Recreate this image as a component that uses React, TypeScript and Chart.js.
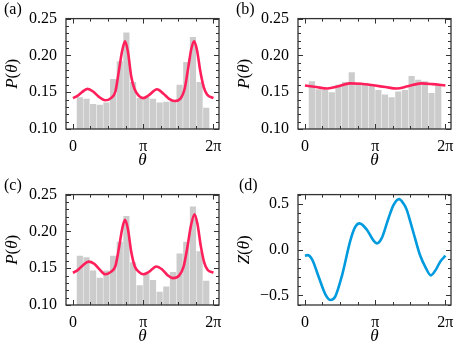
import React, { useEffect, useRef } from "react";
import { Chart, registerables } from "chart.js";
Chart.register(...registerables);

// ---------- data ----------
const binCenters = [0.309, 0.607, 0.904, 1.202, 1.499, 1.797, 2.094, 2.392, 2.689, 2.987, 3.284, 3.582, 3.879, 4.177, 4.474, 4.772, 5.069, 5.367, 5.664, 5.962];

const barsA = [0.143, 0.141, 0.134, 0.133, 0.136, 0.168, 0.192, 0.231, 0.164, 0.142, 0.143, 0.141, 0.136, 0.137, 0.139, 0.160, 0.191, 0.225, 0.164, 0.129];
const barsB = [0.165, 0.154, 0.153, 0.150, 0.160, 0.164, 0.177, 0.163, 0.162, 0.159, 0.153, 0.147, 0.143, 0.151, 0.153, 0.172, 0.167, 0.165, 0.149, 0.159];
const barsC = [0.167, 0.165, 0.147, 0.137, 0.147, 0.167, 0.186, 0.221, 0.158, 0.127, 0.142, 0.134, 0.118, 0.125, 0.145, 0.170, 0.186, 0.234, 0.173, 0.133];

const thetaA = [0, 0.2, 0.4, 0.65, 0.9, 1.15, 1.44, 1.7, 1.9, 2.05, 2.2, 2.33, 2.46, 2.61, 2.76, 2.95, 3.14, 3.4, 3.76, 4.05, 4.3, 4.55, 4.8, 5.0, 5.15, 5.29, 5.42, 5.55, 5.7, 5.85, 6.0, 6.283];
const curveA = [0.142, 0.145, 0.150, 0.1545, 0.151, 0.144, 0.139, 0.142, 0.151, 0.178, 0.206, 0.219, 0.205, 0.171, 0.154, 0.145, 0.142, 0.146, 0.154, 0.148, 0.141, 0.138, 0.141, 0.155, 0.182, 0.208, 0.219, 0.207, 0.178, 0.157, 0.147, 0.142];

const thetaB = [0, 0.5, 1.0, 1.5, 2.0, 2.5, 3.14, 3.6, 4.1, 4.6, 5.2, 5.7, 6.283];
const curveB = [0.159, 0.157, 0.155, 0.158, 0.162, 0.1615, 0.159, 0.157, 0.155, 0.158, 0.162, 0.161, 0.159];

const thetaC = [0, 0.2, 0.45, 0.7, 0.95, 1.2, 1.44, 1.7, 1.9, 2.05, 2.2, 2.33, 2.46, 2.61, 2.76, 2.95, 3.14, 3.4, 3.73, 4.0, 4.25, 4.47, 4.75, 4.95, 5.1, 5.28, 5.44, 5.57, 5.72, 5.87, 6.02, 6.283];
const curveC = [0.1438, 0.147, 0.154, 0.159, 0.156, 0.148, 0.1417, 0.145, 0.153, 0.176, 0.203, 0.2156, 0.203, 0.172, 0.153, 0.145, 0.1417, 0.145, 0.1524, 0.148, 0.140, 0.1365, 0.140, 0.152, 0.175, 0.208, 0.2234, 0.210, 0.180, 0.158, 0.148, 0.1438];

const thetaD = [0, 0.12, 0.33, 0.62, 0.92, 1.14, 1.36, 1.66, 2.03, 2.25, 2.44, 2.77, 3.07, 3.22, 3.44, 3.73, 3.96, 4.21, 4.4, 4.55, 4.7, 4.92, 5.15, 5.41, 5.63, 5.85, 6.05, 6.283];
const curveD = [-0.065, -0.058, -0.11, -0.30, -0.49, -0.55, -0.51, -0.28, 0.10, 0.25, 0.29, 0.22, 0.10, 0.07, 0.13, 0.34, 0.49, 0.555, 0.51, 0.44, 0.32, 0.13, -0.06, -0.2, -0.28, -0.22, -0.13, -0.065];

const xTickValues = [0, Math.PI, 2 * Math.PI];
const xTickLabels = ["0", "π", "2π"];
const yTicksP = [0.1, 0.15, 0.2, 0.25];
const yLabelsP = ["0.10", "0.15", "0.20", "0.25"];
const yTicksZ = [-0.5, 0, 0.5];
const yLabelsZ = ["−0.5", "0.0", "0.5"];

// ---------- styling ----------
const FONT = '"Liberation Serif", serif';
const RED = "#FF1F5B";
const BLUE = "#009ADE";
const BAR = "#cccccc";
const FRAME = "#333333";

Chart.defaults.font.family = FONT;

type PanelProps = {
  label: string;
  labelX: number;
  yName: string;
  bars?: number[];
  theta: number[];
  curve: number[];
  color: string;
  yMin: number;
  yMax: number;
  yTicks: number[];
  yLabels: string[];
  yMinorStep: number;
  left: number;
  top: number;
};

const W = 232;
const H = 176;

function Panel(p: PanelProps) {
  const ref = useRef<HTMLCanvasElement>(null);
  useEffect(() => {
    if (!ref.current) return;
    const decor = {
      id: "decor",
      afterDraw(chart: any) {
        const { ctx, chartArea } = chart;
        const { left, right, top, bottom } = chartArea;
        const xs = chart.scales.x;
        const ys = chart.scales.y;
        ctx.save();
        ctx.strokeStyle = FRAME;
        ctx.lineWidth = 1;
        const xMinor: number[] = [];
        for (let k = 0; k <= 8; k++) if (k % 4 !== 0) xMinor.push((k * Math.PI) / 4);
        const yMinor: number[] = [];
        const start = Math.ceil(p.yMin / p.yMinorStep - 1e-9);
        const end = Math.floor(p.yMax / p.yMinorStep + 1e-9);
        for (let k = start; k <= end; k++) yMinor.push(k * p.yMinorStep);
        ctx.beginPath();
        const xt = (v: number, len: number) => {
          const px = Math.round(xs.getPixelForValue(v)) + 0.5;
          ctx.moveTo(px, bottom);
          ctx.lineTo(px, bottom - len);
          ctx.moveTo(px, top);
          ctx.lineTo(px, top + len);
        };
        const yt = (v: number, len: number) => {
          const py = Math.round(ys.getPixelForValue(v)) + 0.5;
          ctx.moveTo(left, py);
          ctx.lineTo(left + len, py);
          ctx.moveTo(right, py);
          ctx.lineTo(right - len, py);
        };
        xTickValues.forEach((v) => xt(v, 5));
        xMinor.forEach((v) => xt(v, 3));
        p.yTicks.forEach((v) => yt(v, 5));
        yMinor.forEach((v) => {
          if (!p.yTicks.some((t) => Math.abs(t - v) < 1e-6)) yt(v, 3);
        });
        ctx.stroke();
        ctx.lineWidth = 1.3;
        ctx.strokeRect(left, top, right - left, bottom - top);
        ctx.fillStyle = "#000";
        const drawParts = (parts: [string, boolean][], cx: number, cy: number) => {
          let total = 0;
          const widths = parts.map(([t, it]) => {
            ctx.font = `${it ? "italic " : ""}17px ${FONT}`;
            const w = ctx.measureText(t).width;
            total += w;
            return w;
          });
          let x = cx - total / 2;
          ctx.textBaseline = "middle";
          ctx.textAlign = "left";
          parts.forEach(([t, it], i) => {
            ctx.font = `${it ? "italic " : ""}17px ${FONT}`;
            ctx.fillText(t, x, cy);
            x += widths[i];
          });
        };
        ctx.save();
        ctx.translate(13, (top + bottom) / 2);
        ctx.rotate(-Math.PI / 2);
        drawParts([[p.yName, true], ["(", false], ["θ", true], [")", false]], 0, 0);
        ctx.restore();
        drawParts([["θ", true]], (left + right) / 2, 161);
        ctx.font = `16px ${FONT}`;
        ctx.textBaseline = "alphabetic";
        ctx.textAlign = "left";
        ctx.fillText(p.label, p.labelX, 14);
        ctx.restore();
      },
    };

    const datasets: any[] = [
      {
        type: "line",
        data: p.theta.map((t, i) => ({ x: t, y: p.curve[i] })),
        borderColor: p.color,
        borderWidth: 2.6,
        pointRadius: 0,
        cubicInterpolationMode: "monotone",
        fill: false,
        order: 0,
      },
    ];
    if (p.bars) {
      datasets.push({
        type: "bar",
        data: binCenters.map((c, i) => ({ x: c, y: p.bars![i] })),
        backgroundColor: BAR,
        borderWidth: 0,
        barPercentage: 0.93,
        categoryPercentage: 1,
        order: 1,
      });
    }

    const tickFont = { family: FONT, size: 16, style: "normal" as const, weight: "normal" as const };

    const chart = new Chart(ref.current, {
      type: "line",
      data: { datasets },
      options: {
        animation: false,
        responsive: false,
        devicePixelRatio: 1,
        layout: { padding: { left: 0, top: 13, right: 13, bottom: 0 } },
        plugins: { legend: { display: false }, tooltip: { enabled: false } },
        scales: {
          x: {
            type: "linear",
            min: -0.31,
            max: 2 * Math.PI + 0.25,
            offset: false,
            grid: { display: false, drawTicks: false, offset: false },
            border: { display: false },
            afterBuildTicks: (s: any) => {
              s.ticks = xTickValues.map((v) => ({ value: v }));
            },
            ticks: {
              callback: (_v: any, i: number) => xTickLabels[i],
              padding: 8,
              color: "#000",
              maxRotation: 0,
              autoSkip: false,
              font: tickFont,
            },
            afterFit: (s: any) => {
              s.height = 47;
            },
          },
          y: {
            type: "linear",
            min: p.yMin,
            max: p.yMax,
            grid: { display: false, drawTicks: false },
            border: { display: false },
            afterBuildTicks: (s: any) => {
              s.ticks = p.yTicks.map((v) => ({ value: v }));
            },
            ticks: {
              callback: (_v: any, i: number) => p.yLabels[i],
              padding: 9,
              color: "#000",
              autoSkip: false,
              font: tickFont,
            },
            afterFit: (s: any) => {
              s.width = 66;
            },
          },
        },
      } as any,
      plugins: [decor],
    });
    return () => chart.destroy();
  }, []);
  return (
    <canvas
      ref={ref}
      width={W}
      height={H}
      style={{ position: "absolute", left: p.left, top: p.top, width: W, height: H }}
    />
  );
}

export default function App() {
  return (
    <div style={{ position: "fixed", left: 0, top: 0, width: 463, height: 352, background: "#fff" }}>
      <Panel label="(a)" labelX={4} yName="P" bars={barsA} theta={thetaA} curve={curveA} color={RED}
        yMin={0.1} yMax={0.25} yTicks={yTicksP} yLabels={yLabelsP} yMinorStep={0.01} left={0} top={0} />
      <Panel label="(b)" labelX={4} yName="P" bars={barsB} theta={thetaB} curve={curveB} color={RED}
        yMin={0.1} yMax={0.25} yTicks={yTicksP} yLabels={yLabelsP} yMinorStep={0.01} left={232} top={0} />
      <Panel label="(c)" labelX={4} yName="P" bars={barsC} theta={thetaC} curve={curveC} color={RED}
        yMin={0.1} yMax={0.25} yTicks={yTicksP} yLabels={yLabelsP} yMinorStep={0.01} left={0} top={176} />
      <Panel label="(d)" labelX={7} yName="Z" theta={thetaD} curve={curveD} color={BLUE}
        yMin={-0.605} yMax={0.605} yTicks={yTicksZ} yLabels={yLabelsZ} yMinorStep={0.1} left={232} top={176} />
    </div>
  );
}
